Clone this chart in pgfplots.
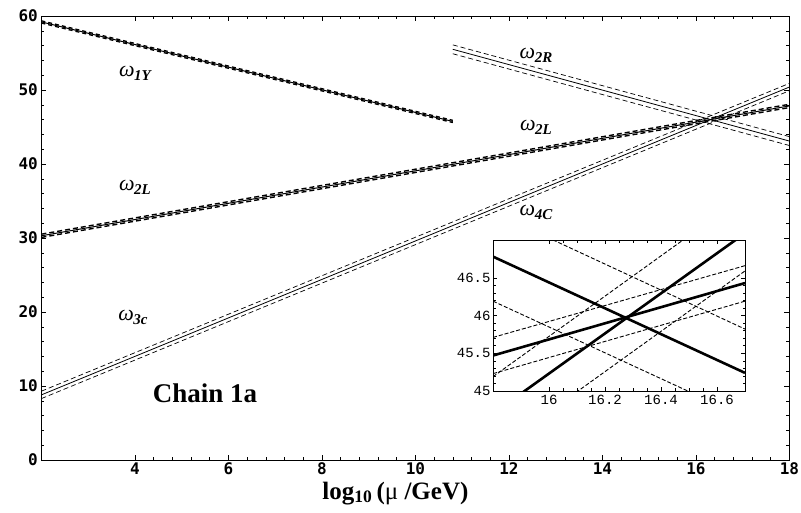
\documentclass[border=0pt]{standalone}
\usepackage{fontspec}
\setmainfont{Liberation Serif}
\newfontfamily\tickfont{DejaVu Sans Mono}
\newfontfamily\insetfont{Liberation Mono}
\usepackage{pgfplots}
\pgfplotsset{compat=1.18}
\newcommand{\omlab}[1]{{\fontsize{22}{22}\selectfont\itshape ω\kern-0.5pt\raisebox{-0.4ex}{\fontsize{15}{15}\selectfont\bfseries\itshape #1}}}
\begin{document}
\begin{tikzpicture}
\begin{axis}[name=main, at={(0pt,0pt)}, anchor=south west,
  scale only axis, width=748pt, height=444pt,
  xmin=2, xmax=18, ymin=0, ymax=60,
  xtick={4,6,...,18}, ytick={0,10,...,60},
  minor x tick num=4, minor y tick num=4,
  tick align=inside, major tick length=5pt, minor tick length=3pt,
  tick style={black, line width=0.6pt},
  axis line style={line width=0.8pt},
  /pgf/number format/assume math mode=true,
  ticklabel style={font=\tickfont\bfseries\fontsize{16}{16}\selectfont},
  xticklabel style={yshift=1pt},
  xlabel={\bfseries log\textsubscript{10}\,(\mdseries μ \bfseries/GeV)},
  xlabel style={font=\fontsize{25}{25}\selectfont, at={(axis description cs:0.5,0)}, anchor=base, xshift=-20pt, yshift=-39pt},
  clip=true]
% omega_1Y
\addplot[black, line width=1pt] coordinates {(2,59.2) (10.8,45.75)};
\addplot[black, line width=1.3pt, dash pattern=on 4pt off 3pt] coordinates {(2,59.35) (10.8,45.9)};
\addplot[black, line width=1.3pt, dash pattern=on 4pt off 3pt] coordinates {(2,59.05) (10.8,45.6)};
% omega_2L
\addplot[black, line width=1pt] coordinates {(2,30.3) (18,47.85)};
\addplot[black, line width=1.4pt, dash pattern=on 5pt off 3pt] coordinates {(2,30.52) (18,48.07)};
\addplot[black, line width=1.4pt, dash pattern=on 5pt off 3pt] coordinates {(2,30.08) (18,47.63)};
% omega_2R
\addplot[black, line width=0.8pt] coordinates {(10.8,55.5) (18,43.1)};
\addplot[black, line width=0.7pt, dash pattern=on 5pt off 3pt] coordinates {(10.8,56.1) (18,43.7)};
\addplot[black, line width=0.7pt, dash pattern=on 5pt off 3pt] coordinates {(10.8,54.9) (18,42.5)};
% omega_3c / omega_4C
\addplot[black, line width=0.8pt] coordinates {(2,8.8) (18,50.4)};
\addplot[black, line width=0.7pt, dash pattern=on 5pt off 3pt] coordinates {(2,9.3) (18,50.9)};
\addplot[black, line width=0.7pt, dash pattern=on 5pt off 3pt] coordinates {(2,8.3) (18,49.9)};
% labels
\node at (axis cs:4.0,52.3) {\omlab{1Y}};
\node at (axis cs:4.0,36.9) {\omlab{2L}};
\node at (axis cs:3.96,19.3) {\omlab{3c}};
\node at (axis cs:12.58,54.7) {\omlab{2R}};
\node at (axis cs:12.58,45.0) {\omlab{2L}};
\node at (axis cs:12.58,33.5) {\omlab{4C}};
\node[font=\bfseries\fontsize{27}{27}\selectfont] at (axis cs:5.5,9.05) {Chain 1a};
\end{axis}
\begin{axis}[at={(451.6pt,69pt)}, anchor=south west,
  scale only axis, width=252pt, height=151pt,
  xmin=15.8, xmax=16.7, ymin=45, ymax=47,
  xtick={16,16.2,16.4,16.6}, ytick={45,45.5,46,46.5},
  minor x tick num=3, minor y tick num=4,
  tick align=inside, major tick length=4pt, minor tick length=2.5pt,
  tick style={black, line width=0.5pt},
  axis line style={line width=0.9pt},
  axis background/.style={fill=white},
  /pgf/number format/assume math mode=true,
  ticklabel style={font=\insetfont\fontsize{14}{14}\selectfont},
  xticklabel style={yshift=-1pt},
  yticklabel style={xshift=1pt},
  clip=true]
% thick lines
\addplot[black, line width=2.6pt] coordinates {(15.8,46.78) (16.7,45.24)};
\addplot[black, line width=2.6pt] coordinates {(15.8,45.47) (16.7,46.43)};
\addplot[black, line width=2.6pt] coordinates {(15.8,44.70) (16.7,47.09)};
% dashed bands
\addplot[black, line width=0.9pt, dash pattern=on 4pt off 2pt] coordinates {(15.8,47.37) (16.7,45.82)};
\addplot[black, line width=0.9pt, dash pattern=on 4pt off 2pt] coordinates {(15.8,46.19) (16.7,44.65)};
\addplot[black, line width=0.9pt, dash pattern=on 4pt off 2pt] coordinates {(15.8,45.71) (16.7,46.66)};
\addplot[black, line width=0.9pt, dash pattern=on 4pt off 2pt] coordinates {(15.8,45.23) (16.7,46.19)};
\addplot[black, line width=0.9pt, dash pattern=on 4pt off 2pt] coordinates {(15.8,45.19) (16.7,47.59)};
\addplot[black, line width=0.9pt, dash pattern=on 4pt off 2pt] coordinates {(15.8,44.19) (16.7,46.59)};
\end{axis}
\pgfresetboundingbox
\path[use as bounding box] (-41.4pt,-52pt) rectangle (759.6pt,460pt);
\end{tikzpicture}
\end{document}
